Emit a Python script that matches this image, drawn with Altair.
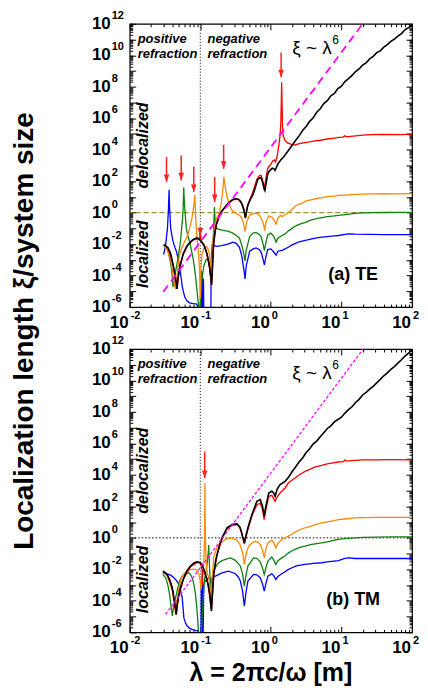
import altair as alt
import pandas as pd

# ---------------- data: log10(lambda) and log10(xi/L) ----------------
# Panel (a) TE
te_black_lx = [-1.518,-1.49,-1.456,-1.42,-1.386,-1.36,-1.34,-1.33,-1.318,-1.292,-1.245,-1.2,-1.174,-1.104,-1.05,-1.033,-0.986,-0.95,-0.915,-0.89,-0.868,-0.85,-0.84,-0.83,-0.812,-0.795,-0.774,-0.74,-0.703,-0.633,-0.58,-0.539,-0.5,-0.468,-0.44,-0.421,-0.4,-0.388,-0.37,-0.36,-0.35,-0.327,-0.29,-0.256,-0.22,-0.186,-0.16,-0.139,-0.115,-0.095,-0.085,-0.07,-0.045,-0.028,0.0,0.019,0.04,0.06,0.075,0.1,0.14,0.183,0.23,0.3,0.35,0.4,0.45,0.5,0.55,0.6,0.65,0.7,0.75,0.8,0.85,0.9,0.95,1.0,1.05,1.1,1.15,1.2,1.25,1.3,1.35,1.4,1.45,1.5,1.55,1.6,1.65,1.7,1.75,1.8,1.85,1.9,1.95,2.0]
te_black_ly = [-2.03,-2.1,-2.24,-2.6,-3.28,-3.9,-4.5,-4.84,-4.2,-3.49,-2.66,-2.2,-2.03,-1.72,-1.6,-1.62,-1.83,-2.05,-2.45,-2.9,-3.49,-4.1,-4.6,-3.8,-2.03,-1.3,-0.79,-0.3,0.04,0.46,0.7,0.83,0.88,0.87,0.78,0.66,0.45,0.25,-0.1,-0.35,-0.05,0.46,0.85,1.12,1.6,2.12,2.2,2.22,1.91,1.5,1.4,1.8,2.43,2.6,2.75,2.83,2.8,2.68,2.85,3.1,3.35,3.55,3.84,4.27,4.58,4.88,5.22,5.48,5.8,6.03,6.38,6.6,6.93,7.12,7.43,7.58,7.88,8.03,8.33,8.52,8.72,8.97,9.13,9.37,9.52,9.77,9.93,10.17,10.28,10.52,10.68,10.88,11.03,11.22,11.38,11.62,11.76,11.92]

te_red_lx = [-1.518,-1.456,-1.386,-1.33,-1.292,-1.245,-1.174,-1.104,-1.03,-1.01,-1.0,-0.99,-0.95,-0.915,-0.868,-0.84,-0.812,-0.774,-0.703,-0.633,-0.539,-0.468,-0.421,-0.388,-0.36,-0.327,-0.256,-0.2,-0.16,-0.139,-0.115,-0.09,-0.07,-0.045,-0.005,0.03,0.05,0.066,0.09,0.113,0.13,0.14,0.148,0.153,0.158,0.165,0.175,0.198,0.23,0.254,0.3,0.348,0.4,0.489,0.55,0.6,0.7,0.8,0.9,0.96,1.02,1.05,1.07,1.2,1.3,1.43,1.6,1.8,2.0]
te_red_ly = [-2.05,-2.26,-3.3,-4.84,-3.5,-2.68,-2.05,-1.74,-1.65,-1.7,-0.95,-1.75,-2.07,-2.47,-3.5,-4.55,-2.05,-0.8,0.03,0.45,0.82,0.86,0.62,0.3,-0.3,0.5,1.3,2.1,2.35,2.37,2.0,1.6,2.2,2.8,3.05,3.3,3.35,3.22,3.6,4.27,4.9,5.6,7.0,8.28,7.0,5.5,4.9,4.6,4.45,4.4,4.32,4.3,4.38,4.45,4.5,4.55,4.6,4.68,4.74,4.78,4.8,4.88,4.82,4.88,4.92,4.96,4.97,4.96,4.97]

te_orange_lx = [-1.518,-1.49,-1.456,-1.42,-1.39,-1.365,-1.35,-1.335,-1.31,-1.292,-1.26,-1.221,-1.18,-1.151,-1.125,-1.104,-1.088,-1.078,-1.072,-1.065,-1.056,-1.045,-1.033,-1.02,-1.01,-1.0,-0.99,-0.975,-0.962,-0.94,-0.915,-0.89,-0.868,-0.855,-0.845,-0.835,-0.82,-0.8,-0.77,-0.727,-0.7,-0.68,-0.672,-0.666,-0.655,-0.642,-0.62,-0.586,-0.55,-0.492,-0.45,-0.421,-0.395,-0.365,-0.345,-0.3,-0.25,-0.186,-0.14,-0.1,-0.089,-0.07,-0.028,0.02,0.075,0.1,0.136,0.16,0.207,0.26,0.3,0.348,0.4,0.45,0.489,0.55,0.6,0.65,0.724,0.8,0.9,0.96,1.05,1.195,1.3,1.43,1.6,1.8,2.0]
te_orange_ly = [-2.14,-2.25,-2.5,-3.0,-3.8,-4.6,-4.85,-4.2,-3.2,-2.66,-2.2,-1.83,-1.45,-1.0,-0.5,0.04,0.6,1.12,0.6,-0.3,-1.0,-1.7,-2.24,-2.9,-3.69,-5.5,-3.5,-2.6,-2.45,-2.2,-2.14,-2.3,-2.66,-3.2,-4.1,-3.0,-1.8,-1.0,-0.4,0.04,0.7,1.49,1.9,2.28,1.9,1.49,1.0,0.46,0.15,-0.06,-0.15,-0.27,-0.55,-1.2,-0.6,-0.17,-0.05,-0.06,-0.3,-0.8,-1.14,-0.6,-0.2,-0.3,-0.73,-0.35,-0.17,-0.25,-0.1,0.05,0.2,0.42,0.55,0.6,0.73,0.8,0.85,0.9,0.95,1.02,1.05,1.1,1.12,1.16,1.18,1.2,1.21,1.2,1.21]

te_green_lx = [-1.518,-1.49,-1.456,-1.43,-1.41,-1.395,-1.386,-1.37,-1.348,-1.32,-1.3,-1.28,-1.268,-1.25,-1.24,-1.235,-1.228,-1.216,-1.198,-1.175,-1.151,-1.13,-1.104,-1.085,-1.066,-1.05,-1.033,-1.02,-1.005,-0.99,-0.97,-0.95,-0.92,-0.89,-0.87,-0.85,-0.84,-0.825,-0.81,-0.8,-0.79,-0.774,-0.74,-0.703,-0.633,-0.58,-0.539,-0.49,-0.445,-0.41,-0.38,-0.365,-0.35,-0.3,-0.25,-0.21,-0.16,-0.139,-0.11,-0.092,-0.07,-0.045,0.0,0.04,0.075,0.1,0.16,0.2,0.254,0.3,0.35,0.4,0.489,0.55,0.6,0.65,0.724,0.8,0.9,0.96,1.05,1.195,1.3,1.43,1.6,1.8,2.0]
te_green_ly = [-2.03,-2.2,-2.45,-3.0,-3.49,-4.2,-4.73,-4.2,-3.69,-3.0,-2.45,-1.8,-1.2,-0.3,0.6,1.6,0.9,0.04,-1.0,-1.5,-1.83,-2.3,-2.86,-3.4,-4.1,-4.8,-5.56,-6.0,-6.3,-5.0,-4.0,-3.4,-3.0,-2.9,-3.3,-4.3,-3.5,-2.4,-1.0,0.35,-0.5,-1.0,-1.05,-1.1,-1.16,-1.22,-1.3,-1.45,-1.62,-2.1,-2.7,-3.07,-2.4,-1.52,-1.3,-1.25,-1.4,-1.52,-2.0,-2.41,-1.9,-1.41,-1.3,-1.5,-1.87,-1.6,-1.45,-1.35,-1.14,-1.0,-0.85,-0.75,-0.62,-0.5,-0.42,-0.38,-0.31,-0.25,-0.2,-0.17,-0.12,-0.04,-0.02,0.0,0.01,0.02,0.02]

te_blue_lx = [-1.518,-1.49,-1.465,-1.45,-1.442,-1.435,-1.419,-1.4,-1.386,-1.36,-1.339,-1.31,-1.292,-1.27,-1.254,-1.235,-1.221,-1.19,-1.151,-1.1,-1.056,-1.04,-1.033,-1.0,-0.99,-0.985,-0.98,-0.975,-0.97,-0.965,-0.955,-0.95,-0.86,-0.85,-0.845,-0.83,-0.774,-0.7,-0.633,-0.58,-0.539,-0.49,-0.445,-0.41,-0.38,-0.365,-0.35,-0.3,-0.25,-0.209,-0.16,-0.13,-0.092,-0.07,-0.045,0.0,0.04,0.075,0.1,0.16,0.2,0.254,0.3,0.35,0.4,0.489,0.55,0.6,0.65,0.724,0.8,0.9,0.96,1.05,1.1,1.2,1.43,1.6,1.8,2.0]
te_blue_ly = [-2.66,-2.0,-1.0,0.3,1.45,0.3,-1.0,-1.5,-1.83,-2.2,-2.45,-3.0,-3.49,-4.2,-4.73,-5.1,-5.35,-5.6,-5.73,-5.78,-5.8,-5.9,-6.3,-6.3,-3.8,-6.3,-3.7,-6.3,-3.9,-6.3,-4.2,-6.3,-6.3,-6.3,-3.0,-2.03,-2.14,-2.1,-2.03,-1.95,-1.87,-1.95,-2.2,-2.8,-3.7,-4.21,-3.4,-2.45,-2.3,-2.24,-2.35,-2.6,-3.32,-2.8,-2.35,-2.3,-2.5,-2.7,-2.45,-2.39,-2.3,-2.18,-2.05,-1.95,-1.85,-1.76,-1.7,-1.65,-1.6,-1.56,-1.52,-1.48,-1.45,-1.38,-1.35,-1.37,-1.38,-1.39,-1.39,-1.39]

te_mag_lx = [-1.525, 1.30]
te_mag_ly = [-5.03, 12.0]

te_arrow_lx = [-1.478, -1.27, -1.092, -1.0, -0.796, -0.669, 0.145]
te_arrow_top = [3.53, 3.63, 2.94, -0.9, 2.26, 4.31, 10.18]
te_arrow_tip = [1.95, 2.05, 1.31, -1.45, 0.68, 2.79, 8.6]

# Panel (b) TM
tm_black_lx = [-1.529,-1.5,-1.468,-1.43,-1.397,-1.37,-1.35,-1.341,-1.33,-1.303,-1.27,-1.233,-1.19,-1.139,-1.09,-1.044,-0.997,-0.97,-0.95,-0.92,-0.889,-0.865,-0.842,-0.83,-0.809,-0.785,-0.762,-0.73,-0.692,-0.621,-0.55,-0.48,-0.44,-0.419,-0.395,-0.376,-0.355,-0.325,-0.268,-0.23,-0.198,-0.151,-0.118,-0.094,-0.075,-0.056,-0.03,0.014,0.04,0.06,0.09,0.13,0.202,0.25,0.3,0.35,0.4,0.45,0.5,0.55,0.6,0.65,0.7,0.75,0.8,0.85,0.9,0.95,1.0,1.05,1.1,1.15,1.2,1.25,1.3,1.35,1.4,1.45,1.5,1.55,1.6,1.65,1.7,1.75,1.8,1.85,1.9,1.95,2.0]
tm_black_ly = [-2.11,-2.2,-2.32,-2.7,-3.17,-3.9,-4.5,-4.86,-4.3,-3.59,-3.0,-2.53,-2.1,-1.79,-1.6,-1.52,-1.58,-1.75,-2.01,-2.4,-2.96,-3.6,-4.65,-3.7,-2.32,-1.5,-1.05,-0.5,0.0,0.64,0.85,0.89,0.7,0.42,0.0,-0.32,0.1,0.64,1.48,1.95,2.32,2.43,2.01,1.37,1.9,2.32,2.85,2.96,2.85,2.64,3.1,3.38,3.59,3.85,4.2,4.5,4.82,5.08,5.42,5.66,5.97,6.15,6.42,6.68,6.95,7.12,7.37,7.52,7.67,7.93,8.15,8.33,8.6,8.8,9.08,9.25,9.45,9.63,9.85,10.07,10.3,10.48,10.7,10.88,11.1,11.32,11.55,11.73,11.98]

tm_red_lx = [-1.529,-1.468,-1.397,-1.341,-1.303,-1.233,-1.139,-1.044,-0.997,-0.975,-0.97,-0.965,-0.95,-0.889,-0.842,-0.809,-0.762,-0.692,-0.621,-0.55,-0.48,-0.44,-0.419,-0.376,-0.355,-0.325,-0.268,-0.198,-0.151,-0.118,-0.095,-0.075,-0.03,0.014,0.06,0.09,0.13,0.202,0.25,0.343,0.4,0.484,0.55,0.62,0.72,0.8,0.9,0.955,1.03,1.05,1.07,1.19,1.3,1.5,1.7,2.0]
tm_red_ly = [-2.15,-2.36,-3.2,-4.86,-3.62,-2.57,-1.83,-1.56,-1.62,-2.0,-3.0,-2.1,-2.05,-3.0,-4.6,-2.36,-1.1,-0.05,0.58,0.8,0.84,0.65,0.35,-0.4,0.0,0.55,1.4,2.11,2.2,1.8,1.16,1.7,2.64,2.7,2.32,2.6,2.85,3.17,3.5,3.8,4.0,4.22,4.35,4.5,4.6,4.7,4.78,4.82,4.85,4.95,4.88,4.92,4.95,4.96,4.97,4.96]

tm_orange_lx = [-1.529,-1.5,-1.468,-1.43,-1.397,-1.37,-1.35,-1.335,-1.303,-1.27,-1.233,-1.19,-1.139,-1.068,-1.04,-1.021,-1.0,-0.99,-0.98,-0.965,-0.95,-0.942,-0.937,-0.934,-0.93,-0.925,-0.915,-0.9,-0.88,-0.86,-0.847,-0.835,-0.82,-0.809,-0.77,-0.739,-0.69,-0.645,-0.6,-0.55,-0.48,-0.44,-0.4,-0.376,-0.35,-0.315,-0.26,-0.221,-0.18,-0.151,-0.12,-0.094,-0.07,-0.042,0.014,0.04,0.07,0.1,0.155,0.2,0.25,0.3,0.35,0.4,0.484,0.55,0.6,0.65,0.72,0.8,0.9,0.955,1.05,1.19,1.3,1.5,1.7,2.0]
tm_orange_ly = [-2.15,-2.25,-2.43,-2.9,-3.38,-4.1,-4.86,-4.1,-3.2,-2.6,-2.3,-2.1,-2.0,-2.0,-2.1,-2.32,-2.7,-3.3,-2.6,-2.2,-1.5,-0.5,1.0,3.49,1.0,-0.5,-1.8,-2.3,-2.5,-3.2,-4.0,-2.8,-1.8,-1.2,-0.7,-0.46,-0.25,-0.1,-0.03,0.0,-0.15,-0.4,-0.95,-1.69,-1.0,-0.53,-0.3,-0.21,-0.28,-0.42,-0.75,-1.27,-0.7,-0.32,-0.15,-0.3,-0.63,-0.35,-0.1,0.0,0.11,0.25,0.38,0.5,0.63,0.72,0.8,0.88,0.95,1.02,1.1,1.16,1.2,1.27,1.28,1.3,1.3,1.3]

tm_green_lx = [-1.529,-1.505,-1.482,-1.455,-1.435,-1.415,-1.397,-1.375,-1.35,-1.32,-1.294,-1.25,-1.209,-1.17,-1.139,-1.11,-1.091,-1.07,-1.054,-1.04,-1.03,-1.02,-0.99,-0.96,-0.945,-0.936,-0.92,-0.9,-0.885,-0.88,-0.875,-0.865,-0.856,-0.845,-0.835,-0.82,-0.809,-0.77,-0.739,-0.69,-0.645,-0.574,-0.503,-0.45,-0.433,-0.4,-0.376,-0.35,-0.325,-0.245,-0.2,-0.151,-0.12,-0.094,-0.07,-0.042,0.014,0.04,0.07,0.1,0.155,0.2,0.25,0.3,0.35,0.4,0.484,0.55,0.6,0.65,0.72,0.8,0.9,0.955,1.05,1.19,1.3,1.5,1.7,2.0]
tm_green_ly = [-2.32,-2.45,-2.64,-3.1,-3.59,-4.3,-4.96,-4.3,-3.8,-3.2,-2.74,-2.4,-2.22,-2.2,-2.32,-2.6,-2.96,-3.5,-4.22,-5.0,-5.7,-6.3,-6.3,-4.0,-2.8,-2.53,-2.2,-1.5,-0.8,-0.46,-1.2,-2.3,-2.96,-4.3,-3.2,-2.4,-2.11,-1.75,-1.58,-1.45,-1.37,-1.27,-1.43,-1.7,-1.79,-2.3,-3.06,-2.3,-1.79,-1.27,-1.3,-1.52,-1.9,-2.32,-1.9,-1.48,-1.22,-1.4,-1.69,-1.45,-1.27,-1.15,-0.95,-0.82,-0.72,-0.62,-0.53,-0.45,-0.4,-0.36,-0.32,-0.25,-0.15,-0.1,-0.05,0.0,0.03,0.05,0.06,0.06]

tm_blue_lx = [-1.529,-1.49,-1.444,-1.41,-1.374,-1.34,-1.303,-1.28,-1.256,-1.245,-1.233,-1.21,-1.186,-1.15,-1.115,-1.07,-1.03,-1.01,-0.995,-0.99,-0.985,-0.98,-0.975,-0.97,-0.965,-0.96,-0.95,-0.927,-0.88,-0.86,-0.847,-0.83,-0.786,-0.692,-0.598,-0.503,-0.46,-0.433,-0.4,-0.376,-0.35,-0.325,-0.245,-0.2,-0.151,-0.12,-0.094,-0.07,-0.042,0.014,0.04,0.07,0.1,0.155,0.2,0.25,0.3,0.35,0.4,0.484,0.55,0.6,0.72,0.8,0.955,1.05,1.1,1.19,1.5,2.0]
tm_blue_ly = [-2.22,-2.27,-2.32,-2.4,-2.53,-2.7,-2.96,-3.3,-3.8,-4.4,-5.07,-5.4,-5.6,-5.75,-5.81,-5.88,-5.91,-6.3,-6.3,-6.3,-3.0,-6.3,-2.9,-6.3,-3.0,-6.3,-2.9,-2.74,-2.53,-2.6,-3.0,-2.5,-2.43,-2.22,-2.11,-2.28,-2.5,-2.74,-3.4,-4.33,-3.4,-2.74,-2.32,-2.35,-2.53,-2.9,-3.38,-2.9,-2.43,-2.28,-2.4,-2.64,-2.45,-2.28,-2.15,-2.0,-1.9,-1.8,-1.75,-1.69,-1.65,-1.62,-1.58,-1.52,-1.44,-1.3,-1.27,-1.31,-1.31,-1.31]

tm_mag_lx = [-1.492, 1.307]
tm_mag_ly = [-4.86, 12.0]

tm_arrow_lx = [-0.937]
tm_arrow_top = [5.49]
tm_arrow_tip = [3.8]

# tick labels
x_tick_values = [0.01, 0.1, 1, 10, 100]
x_tick_exps = ["-2", "-1", "0", "1", "2"]
y_tick_values = [1e-6, 1e-4, 1e-2, 1, 1e2, 1e4, 1e6, 1e8, 1e10, 1e12]
y_tick_exps = ["-6", "-4", "-2", "0", "2", "4", "6", "8", "10", "12"]

# ---------------- chart ----------------
FONT = "Liberation Sans"
W, H = 283, 284
xs = alt.Scale(type="log", domain=[0.01, 100], nice=False)
ys = alt.Scale(type="log", domain=[1e-6, 1e12], nice=False)

x_major = [10.0 ** k for k in range(-2, 3)]
x_minor = [m * 10.0 ** k for k in range(-2, 2) for m in range(2, 10)]
y_major = [10.0 ** k for k in range(-6, 13)]
y_minor = [m * 10.0 ** k for k in range(-6, 12) for m in range(2, 10)]

dummy = pd.DataFrame({"x": [0.01, 100.0], "y": [1e-6, 1e12]})
one = pd.DataFrame({"a": [0]})


def tick_layer(ox, oy, xv, yv, size):
    ax = dict(labels=False, domain=False, grid=False, title=None, tickSize=size,
              offset=-size, tickColor="black", tickWidth=1)
    return alt.Chart(dummy).mark_point(opacity=0).encode(
        x=alt.X("x:Q", scale=xs, axis=alt.Axis(orient=ox, values=xv, **ax)),
        y=alt.Y("y:Q", scale=ys, axis=alt.Axis(orient=oy, values=yv, **ax)),
    )


def curve(lx, ly, color, width=1.3, dash=None):
    df = pd.DataFrame({"x": [10.0 ** v for v in lx], "y": [10.0 ** v for v in ly],
                       "i": list(range(len(lx)))})
    kw = dict(color=color, strokeWidth=width, clip=True)
    if dash:
        kw["strokeDash"] = dash
    return alt.Chart(df).mark_line(**kw).encode(
        x=alt.X("x:Q", scale=xs, axis=None),
        y=alt.Y("y:Q", scale=ys, axis=None),
        order="i:Q",
    )


def arrows(lx, top, tip):
    df = pd.DataFrame({"x": [10.0 ** v for v in lx], "t": [10.0 ** v for v in top],
                       "p": [10.0 ** v for v in tip]})
    col = "#ff2020"
    shaft = alt.Chart(df).mark_rule(color=col, strokeWidth=1.5).encode(
        x=alt.X("x:Q", scale=xs, axis=None),
        y=alt.Y("t:Q", scale=ys, axis=None), y2="p:Q")
    head = alt.Chart(df).mark_point(shape="M -0.36 -1 L 0.36 -1 L 0 0 Z", filled=True,
                                    size=230, color=col, opacity=1).encode(
        x=alt.X("x:Q", scale=xs, axis=None),
        y=alt.Y("p:Q", scale=ys, axis=None))
    return shaft + head


def ann(text, px, py, size, weight="normal", style="normal", angle=0, align="left",
        baseline="alphabetic"):
    return alt.Chart(pd.DataFrame({"t": [text]})).mark_text(
        x=px, y=py, fontSize=size, fontWeight=weight, fontStyle=style, angle=angle,
        align=align, baseline=baseline, font=FONT, color="black").encode(text="t:N")


def tick_labels():
    dy_ = pd.DataFrame({"v": y_tick_values, "b": ["10"] * len(y_tick_values), "e": y_tick_exps})
    dx_ = pd.DataFrame({"v": x_tick_values, "b": ["10"] * len(x_tick_values), "e": x_tick_exps})
    yb = alt.Chart(dy_).mark_text(x=-19, align="right", baseline="middle", fontSize=17,
                                  fontWeight="bold", font=FONT).encode(
        y=alt.Y("v:Q", scale=ys, axis=None), text="b:N")
    ye = alt.Chart(dy_).mark_text(x=-18, dy=-8, align="left", baseline="middle", fontSize=11,
                                  fontWeight="bold", font=FONT).encode(
        y=alt.Y("v:Q", scale=ys, axis=None), text="e:N")
    xb = alt.Chart(dx_).mark_text(y=H + 21, dx=-1, align="right", baseline="alphabetic",
                                  fontSize=17, fontWeight="bold", font=FONT).encode(
        x=alt.X("v:Q", scale=xs, axis=None), text="b:N")
    xe = alt.Chart(dx_).mark_text(y=H + 12, dx=1, align="left", baseline="alphabetic",
                                  fontSize=11, fontWeight="bold", font=FONT).encode(
        x=alt.X("v:Q", scale=xs, axis=None), text="e:N")
    return [yb, ye, xb, xe]


def panel(d, te=True):
    layers = [
        tick_layer("bottom", "left", x_major, y_major, 6),
        tick_layer("bottom", "left", x_minor, y_minor, 3),
        tick_layer("top", "right", x_major, y_major, 6),
        tick_layer("top", "right", x_minor, y_minor, 3),
    ]
    if te:
        hline = alt.Chart(one).mark_rule(color="#7a7a10", strokeWidth=1, strokeDash=[5, 3]).encode(
            y=alt.Y(datum=1.0, scale=ys, axis=None))
    else:
        hline = alt.Chart(one).mark_rule(color="black", strokeWidth=1, strokeDash=[1.5, 2]).encode(
            y=alt.Y(datum=1.0, scale=ys, axis=None))
    vline = alt.Chart(one).mark_rule(color="black", strokeWidth=1, strokeDash=[1, 2]).encode(
        x=alt.X(datum=0.1, scale=xs, axis=None))
    layers += [hline, vline]
    layers += [
        curve(d["blue"][0], d["blue"][1], "#0000ff"),
        curve(d["green"][0], d["green"][1], "#108010"),
        curve(d["orange"][0], d["orange"][1], "#ff8800"),
        curve(d["red"][0], d["red"][1], "#ff0000"),
        curve(d["black"][0], d["black"][1], "#000000", width=1.6),
    ]
    if te:
        layers.append(curve(d["mag"][0], d["mag"][1], "#ff00ff", width=1.8, dash=[8, 5]))
    else:
        layers.append(curve(d["mag"][0], d["mag"][1], "#ff00ff", width=1.2, dash=[3, 2]))
    layers.append(arrows(*d["arrows"]))
    layers += [
        ann("positive", 8, 19, 13, "bold", "italic"),
        ann("refraction", 8, 34, 13, "bold", "italic"),
        ann("negative", 78, 19, 13, "bold", "italic"),
        ann("refraction", 78, 34, 13, "bold", "italic"),
        ann("\u03be ~ \u03bb", 163, 30, 19),
        ann("6", 203, 20, 12),
        ann("delocalized", 13, 122, 16, "bold", "italic", angle=270, align="center", baseline="middle"),
        ann("localized", 13, 231, 16, "bold", "italic", angle=270, align="center", baseline="middle"),
        ann("(a) TE" if te else "(b) TM", 224, 252, 18, "bold", align="center", baseline="middle"),
    ]
    layers += tick_labels()
    if te:
        layers.append(ann("Localization length \u03be/system size", -105, 308, 28, "bold",
                          angle=270, align="center", baseline="middle"))
    else:
        layers.append(ann("\u03bb = 2\u03c0c/\u03c9 [m]", W / 2, 325, 25, "bold",
                          align="center", baseline="middle"))
    return alt.layer(*layers).resolve_axis(x="independent", y="independent").properties(
        width=W, height=H)


te_data = {
    "black": (te_black_lx, te_black_ly), "red": (te_red_lx, te_red_ly),
    "orange": (te_orange_lx, te_orange_ly), "green": (te_green_lx, te_green_ly),
    "blue": (te_blue_lx, te_blue_ly), "mag": (te_mag_lx, te_mag_ly),
    "arrows": (te_arrow_lx, te_arrow_top, te_arrow_tip),
}
tm_data = {
    "black": (tm_black_lx, tm_black_ly), "red": (tm_red_lx, tm_red_ly),
    "orange": (tm_orange_lx, tm_orange_ly), "green": (tm_green_lx, tm_green_ly),
    "blue": (tm_blue_lx, tm_blue_ly), "mag": (tm_mag_lx, tm_mag_ly),
    "arrows": (tm_arrow_lx, tm_arrow_top, tm_arrow_tip),
}

chart = alt.vconcat(panel(te_data, True), panel(tm_data, False), spacing=42, bounds="flush").properties(
    padding={"left": 2, "top": 0, "right": 0, "bottom": 0}
).configure_view(stroke="black", strokeWidth=1.2)

chart.save("out.html", embed_options={"renderer": "svg", "actions": False})
